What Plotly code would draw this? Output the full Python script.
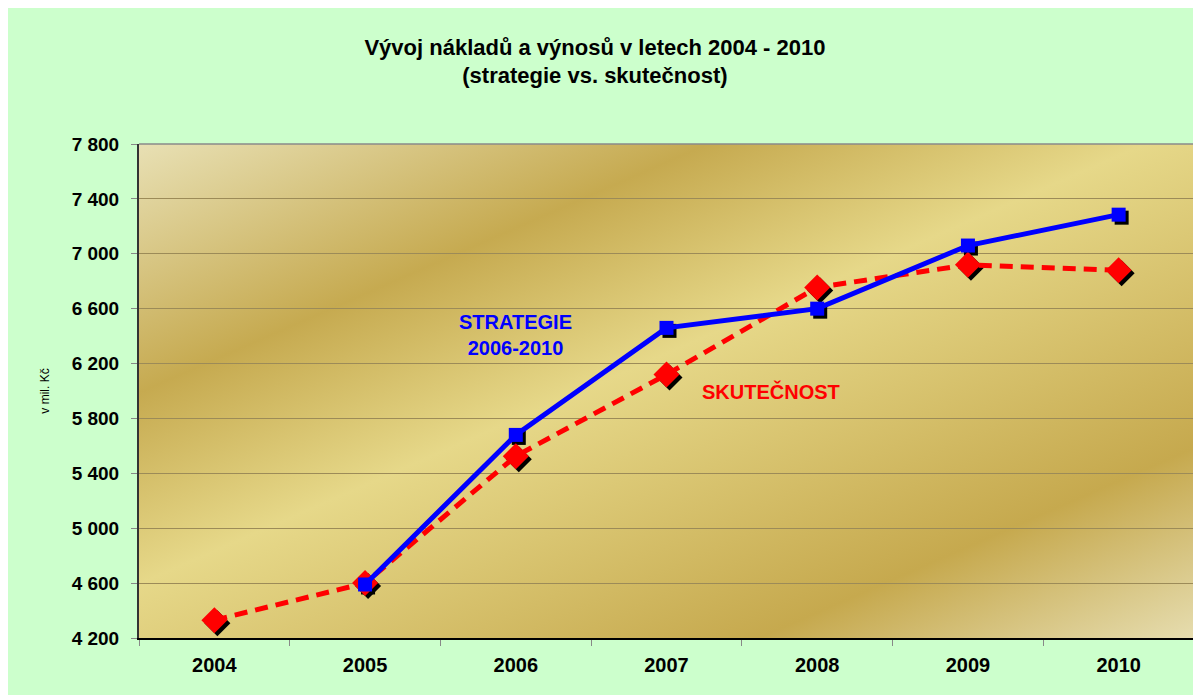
import base64
import plotly.graph_objects as go

# ---- data ----
years = ["2004", "2005", "2006", "2007", "2008", "2009", "2010"]
strategie = [None, 4590, 5680, 6460, 6600, 7060, 7285]
skutecnost = [4330, 4600, 5525, 6120, 6755, 6920, 6880]
y_ticks = [4200, 4600, 5000, 5400, 5800, 6200, 6600, 7000, 7400, 7800]
y_ticktext = ["4 200", "4 600", "5 000", "5 400", "5 800", "6 200", "6 600", "7 000", "7 400", "7 800"]

# page body has an 8px margin, so the figure starts at (8, 8)
W, H = 1193, 687
L, R, T, B = 131, 7, 136, 57
PW, PH = W - L - R, H - T - B

FONT = "Liberation Sans, Arial, sans-serif"

# gold gradient background for the plot area (SVG image)
svg = f'''<svg xmlns="http://www.w3.org/2000/svg" width="{PW}" height="{PH}" viewBox="0 0 {PW} {PH}" preserveAspectRatio="none">
<defs><linearGradient id="g" gradientUnits="userSpaceOnUse" x1="0" y1="0" x2="351" y2="803">
<stop offset="0" stop-color="#e8e0b4"/>
<stop offset="0.26" stop-color="#c6aa50"/>
<stop offset="0.46" stop-color="#e6d889"/>
<stop offset="0.80" stop-color="#c6a94e"/>
<stop offset="1" stop-color="#e6ddb0"/>
</linearGradient></defs>
<rect x="0" y="0" width="{PW}" height="{PH}" fill="url(#g)"/>
</svg>'''
svg_uri = "data:image/svg+xml;base64," + base64.b64encode(svg.encode()).decode()

xr = [-0.5, 6.5]
yr = [4200, 7800]
dx = 3 * (xr[1] - xr[0]) / PW
dy = 3 * (yr[1] - yr[0]) / PH

fig = go.Figure()

# invisible trace to establish the categories of the visible axes
fig.add_trace(go.Scatter(x=years, y=skutecnost, mode="markers", marker=dict(opacity=0),
                         showlegend=False, hoverinfo="skip"))

# shadows (same data, on axes shifted by 3 px right/down)
fig.add_trace(go.Scatter(x=years, y=strategie, mode="markers", xaxis="x2", yaxis="y2",
                         marker=dict(symbol="square", size=14, color="black"),
                         showlegend=False, hoverinfo="skip"))
fig.add_trace(go.Scatter(x=years, y=skutecnost, mode="markers", xaxis="x2", yaxis="y2",
                         marker=dict(symbol="diamond", size=20, color="black"),
                         showlegend=False, hoverinfo="skip"))

# main series
fig.add_trace(go.Scatter(x=years, y=skutecnost, mode="lines+markers", name="SKUTEČNOST",
                         xaxis="x3", yaxis="y3",
                         line=dict(color="#ff0000", width=5, dash="13px,8px"),
                         marker=dict(symbol="diamond", size=20, color="#ff0000"),
                         showlegend=False))
fig.add_trace(go.Scatter(x=years, y=strategie, mode="lines+markers", name="STRATEGIE 2006-2010",
                         xaxis="x3", yaxis="y3",
                         line=dict(color="#0000ff", width=5),
                         marker=dict(symbol="square", size=14, color="#0000ff"),
                         showlegend=False))

fig.update_layout(
    width=W, height=H,
    margin=dict(l=L, r=R, t=T, b=B),
    paper_bgcolor="#ccffcc",
    plot_bgcolor="rgba(0,0,0,0)",
    font=dict(family=FONT, color="black"),
    title=dict(text="<b>Vývoj nákladů a výnosů v letech 2004 - 2010<br>(strategie vs. skutečnost)</b>",
               x=0.492, xanchor="center", y=0.932, yanchor="middle",
               font=dict(size=22, color="black")),
    xaxis=dict(type="category", range=xr, showgrid=False, tickson="boundaries",
               ticks="outside", ticklen=6, tickcolor="#888888",
               showline=True, linecolor="black", linewidth=2,
               tickfont=dict(size=20, weight="bold"), ticklabelstandoff=8,
               zeroline=False, fixedrange=True),
    yaxis=dict(range=yr, tickvals=y_ticks, ticktext=y_ticktext,
               showgrid=True, gridcolor="#9c8b58", gridwidth=1.3,
               ticks="outside", ticklen=6, tickcolor="#888888",
               showline=True, linecolor="#333333", linewidth=2,
               tickfont=dict(size=19, weight="bold"), ticklabelstandoff=8,
               zeroline=False,
               title=dict(text="v mil. Kč", font=dict(size=12), standoff=19)),
    xaxis2=dict(type="category", range=[xr[0] - dx, xr[1] - dx], overlaying="x",
                visible=False, fixedrange=True),
    yaxis2=dict(range=[yr[0] + dy, yr[1] + dy], overlaying="y", visible=False),
    xaxis3=dict(type="category", range=xr, overlaying="x", visible=False, fixedrange=True),
    yaxis3=dict(range=yr, overlaying="y", visible=False),
    images=[dict(source=svg_uri, xref="paper", yref="paper", x=0, y=1, sizex=1, sizey=1,
                 sizing="stretch", xanchor="left", yanchor="top", layer="below")],
    shapes=[
        dict(type="line", xref="paper", yref="paper", x0=0, x1=1, y0=1, y1=1,
             line=dict(color="#8a8a8a", width=1.5)),
        dict(type="line", xref="paper", yref="paper", x0=1, x1=1, y0=0, y1=1,
             line=dict(color="#8a8a8a", width=1.5)),
    ],
    annotations=[
        dict(text="<b>STRATEGIE<br>2006-2010</b>", xref="paper", yref="paper",
             x=(515 - 8 - L) / PW, y=(H + 8 - B - 335) / PH, showarrow=False,
             font=dict(size=20, color="#0000ff"), align="center"),
        dict(text="<b>SKUTEČNOST</b>", xref="paper", yref="paper",
             x=(771 - 8 - L) / PW, y=(H + 8 - B - 391) / PH, showarrow=False,
             font=dict(size=20, color="#ff0000"), align="center"),
    ],
)

fig.write_html("out.html")
